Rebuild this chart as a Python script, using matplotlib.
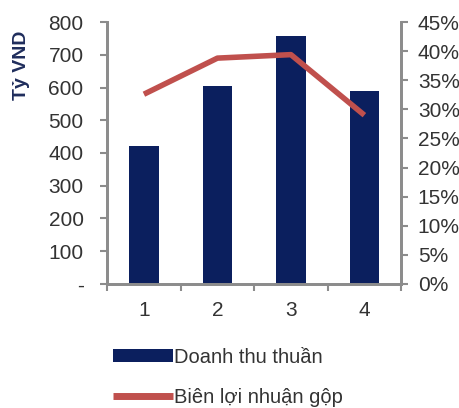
import matplotlib.pyplot as plt
from matplotlib.ticker import FuncFormatter

# quarterly revenue (ty VND) and gross margin (%)
quarters = ['1', '2', '3', '4']
revenue = [420, 605, 757, 590]
gross_margin = [32.6, 38.8, 39.4, 29.0]

navy = '#0b1f5e'
red = '#c0504d'
grey = '#8c8c8c'
text_col = '#333333'

plt.rcParams['font.family'] = ['Liberation Sans', 'DejaVu Sans']

fig = plt.figure(figsize=(4.6, 4.08), dpi=100)
ax = fig.add_axes([0.233, 0.304, 0.639, 0.642])
ax2 = ax.twinx()

x = range(len(quarters))
bars = ax.bar(x, revenue, width=0.4, color=navy, label='Doanh thu thuần', zorder=2)
line, = ax2.plot(x, gross_margin, color=red, linewidth=4, solid_capstyle='butt',
                 label='Biên lợi nhuận gộp', zorder=3)

ax.set_xlim(-0.5, 3.5)
ax.set_ylim(0, 800)
ax2.set_ylim(0, 45)
ax.set_yticks(range(0, 801, 100))
ax.yaxis.set_major_formatter(FuncFormatter(lambda v, p: '-' if v == 0 else '%d' % v))
ax2.set_yticks(range(0, 46, 5))
ax2.yaxis.set_major_formatter(FuncFormatter(lambda v, p: '%d%%' % v))

# category labels centred, tick marks between categories
ax.set_xticks(x)
ax.set_xticklabels(quarters)
ax.set_xticks([-0.5, 0.5, 1.5, 2.5, 3.5], minor=True)
ax.tick_params(axis='x', which='major', length=0, pad=12)
ax.tick_params(axis='x', which='minor', length=5, width=1.5, color=grey)

for a in (ax, ax2):
    a.spines['top'].set_visible(False)
    for side in ('left', 'right', 'bottom'):
        a.spines[side].set_color(grey)
        a.spines[side].set_linewidth(2)
    a.tick_params(axis='y', length=5, width=1.5, color=grey, labelsize=15,
                  labelcolor=text_col)
ax.tick_params(axis='y', pad=12)
ax2.tick_params(axis='y', pad=7)
ax.tick_params(axis='x', labelsize=15, labelcolor=text_col)

# axis title sits at the top of the left axis
fig.text(0.046, 0.925, 'Tỷ VND', rotation=90, ha='center', va='top',
         fontsize=14, fontweight='bold', color='#1f2d5c')

fig.legend([bars, line], ['Doanh thu thuần', 'Biên lợi nhuận gộp'],
           loc='upper left', bbox_to_anchor=(0.228, 0.168), frameon=False,
           fontsize=14.5, handlelength=3.0, handleheight=0.6, handletextpad=0.05,
           labelspacing=1.05, borderaxespad=0, labelcolor=text_col)
line_handle = fig.legends[0].legend_handles[1]
line_handle.set_linewidth(5)

fig.savefig('out.png', dpi=100)
